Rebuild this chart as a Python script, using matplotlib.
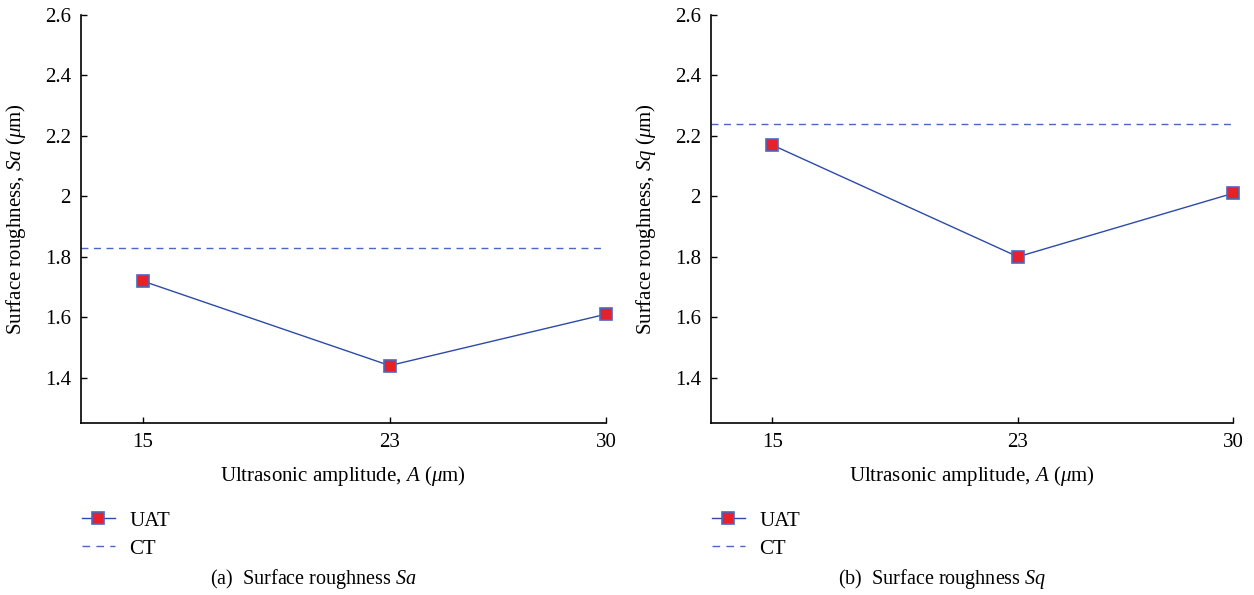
import matplotlib
matplotlib.use("Agg")
import matplotlib.pyplot as plt
from matplotlib.lines import Line2D

plt.rcParams['font.family'] = ['Liberation Serif', 'DejaVu Serif']
plt.rcParams['mathtext.fontset'] = 'custom'
plt.rcParams['mathtext.rm'] = 'Liberation Serif'
plt.rcParams['mathtext.it'] = 'Liberation Serif:italic'

amplitude = [15, 23, 30]
sa_uat = [1.72, 1.44, 1.61]
sa_ct = 1.83
sq_uat = [2.17, 1.80, 2.01]
sq_ct = 2.24
yticks = [1.4, 1.6, 1.8, 2.0, 2.2, 2.4, 2.6]
ytick_labels = ['1.4', '1.6', '1.8', '2', '2.2', '2.4', '2.6']

panels = [
    (sa_uat, sa_ct, 'Sa', '(a)'),
    (sq_uat, sq_ct, 'Sq', '(b)'),
]

W, H = 1254, 595
fig = plt.figure(figsize=(W / 100, H / 100), dpi=100)

line_col = '#2c4aa8'
dash_col = '#4a68c0'
face_col = '#e8202a'
FS = 15

axes_px = [(80.7, 606), (710.7, 1233)]
top_px, bot_px = 15, 423

for (uat, ct, sym, tag), (x0, x1) in zip(panels, axes_px):
    ax = fig.add_axes([x0 / W, 1 - bot_px / H, (x1 - x0) / W, (bot_px - top_px) / H])
    ax.plot(amplitude, uat, color=line_col, lw=1.0, marker='s', ms=8,
            mfc=face_col, mec=dash_col, mew=1.2, zorder=3, clip_on=False)
    ax.plot([13, 30], [ct, ct], color=dash_col, lw=1.0, ls=(0, (5, 4)))
    ax.set_xlim(13, 30)
    ax.set_ylim(1.25, 2.6)
    ax.set_xticks(amplitude)
    ax.set_xticklabels([str(a) for a in amplitude])
    ax.set_yticks(yticks)
    ax.set_yticklabels(ytick_labels)
    for s in ['top', 'right']:
        ax.spines[s].set_visible(False)
    for s in ['left', 'bottom']:
        ax.spines[s].set_linewidth(1.2)
    ax.tick_params(direction='in', length=4, width=1.0, labelsize=FS, pad=7)
    ax.set_xlabel(r'Ultrasonic amplitude, $\mathit{A}$ ($\mathit{\mu}$m)', fontsize=FS, labelpad=9)
    ax.set_ylabel(r'Surface roughness, $\mathit{%s}$ ($\mathit{\mu}$m)' % sym, fontsize=FS)
    ax.yaxis.set_label_coords(-53 / (x1 - x0), 0.5)

    handles = [
        Line2D([], [], color=line_col, lw=1.0, marker='s', ms=8, mfc=face_col, mec=dash_col, mew=1.2),
        Line2D([], [], color=dash_col, lw=1.0, ls=(0, (5.5, 4.5))),
    ]
    fig.legend(handles, ['UAT', 'CT'], loc='upper left',
               bbox_to_anchor=((x0 + 1) / W, 1 - 511 / H), frameon=False,
               fontsize=FS, handlelength=1.6, handletextpad=0.7, labelspacing=0.4,
               borderaxespad=0, borderpad=0)
    cx = x0 + (x1 - x0) / 2 - 30
    fig.text(cx / W, 1 - 579 / H, r'%s  Surface roughness $\mathit{%s}$' % (tag, sym),
             fontsize=14.5, ha='center', va='center')

fig.savefig('out.png', dpi=100)
